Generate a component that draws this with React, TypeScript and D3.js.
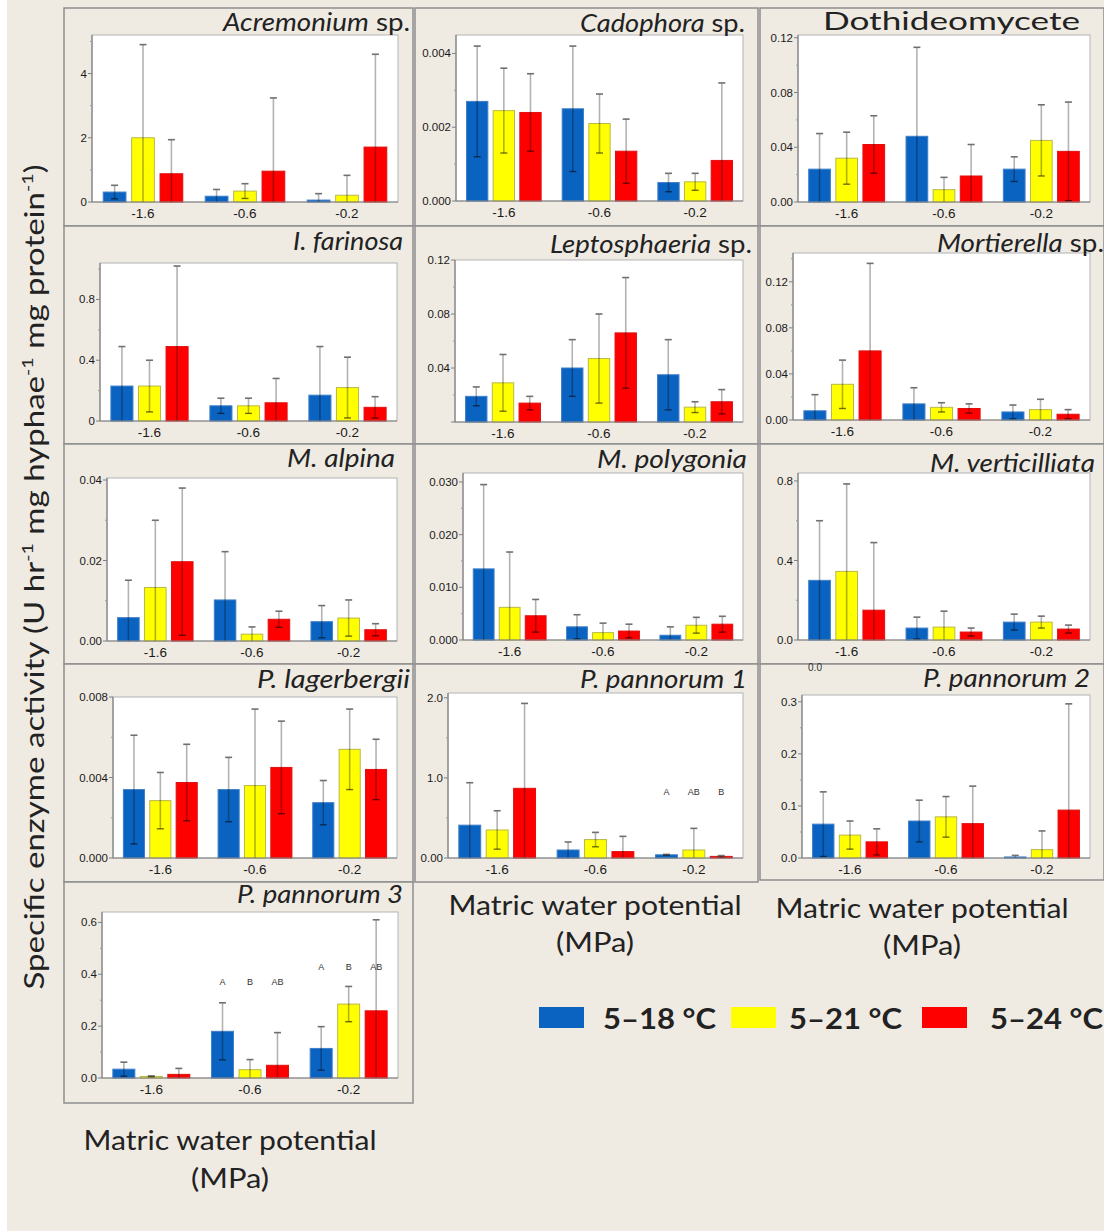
import React from "react";
import * as d3 from "d3";

// ---------- data ----------
const potentials = ["-1.6", "-0.6", "-0.2"];
const treatments = ["5–18 °C", "5–21 °C", "5–24 °C"];
const treatmentColors = ["#0b63c1", "#ffff00", "#ff0000"];
const treatmentStrokes = ["#3f7fc8", "#b8b84a", "#e01010"];

// mean[potential][treatment], sd[potential][treatment]
const acremoniumMean = [[0.31, 2.0, 0.88], [0.18, 0.34, 0.96], [0.06, 0.21, 1.71]];
const acremoniumSD = [[0.21, 2.9, 1.06], [0.21, 0.23, 2.28], [0.2, 0.62, 2.89]];
const acremoniumTicks = [0, 2, 4];
const acremoniumTickLabels = ["0", "2", "4"];

const cadophoraMean = [[0.0027, 0.00245, 0.0024], [0.0025, 0.0021, 0.00135], [0.0005, 0.00052, 0.0011]];
const cadophoraSD = [[0.0015, 0.00115, 0.00105], [0.0017, 0.0008, 0.00087], [0.00025, 0.00023, 0.0021]];
const cadophoraTicks = [0, 0.002, 0.004];
const cadophoraTickLabels = ["0.000", "0.002", "0.004"];

const dothideoMean = [[0.024, 0.032, 0.042], [0.048, 0.009, 0.019], [0.024, 0.045, 0.037]];
const dothideoSD = [[0.026, 0.019, 0.021], [0.065, 0.009, 0.023], [0.009, 0.026, 0.036]];
const dothideoTicks = [0, 0.04, 0.08, 0.12];
const dothideoTickLabels = ["0.00", "0.04", "0.08", "0.12"];

const farinosaMean = [[0.23, 0.23, 0.49], [0.1, 0.1, 0.12], [0.17, 0.22, 0.09]];
const farinosaSD = [[0.26, 0.17, 0.53], [0.05, 0.05, 0.16], [0.32, 0.2, 0.07]];
const farinosaTicks = [0, 0.4, 0.8];
const farinosaTickLabels = ["0", "0.4", "0.8"];

const leptoMean = [[0.019, 0.029, 0.014], [0.04, 0.047, 0.066], [0.035, 0.011, 0.015]];
const leptoSD = [[0.007, 0.021, 0.005], [0.021, 0.033, 0.041], [0.026, 0.004, 0.009]];
const leptoTicks = [0.04, 0.08, 0.12];
const leptoTickLabels = ["0.04", "0.08", "0.12"];

const mortierellaMean = [[0.008, 0.031, 0.06], [0.014, 0.011, 0.01], [0.007, 0.009, 0.005]];
const mortierellaSD = [[0.014, 0.021, 0.076], [0.014, 0.004, 0.004], [0.006, 0.009, 0.004]];
const mortierellaTicks = [0, 0.04, 0.08, 0.12];
const mortierellaTickLabels = ["0.00", "0.04", "0.08", "0.12"];

const alpinaMean = [[0.0058, 0.0133, 0.0197], [0.0102, 0.0017, 0.0054], [0.0048, 0.0057, 0.0028]];
const alpinaSD = [[0.0093, 0.0167, 0.0183], [0.012, 0.0018, 0.002], [0.004, 0.0045, 0.0015]];
const alpinaTicks = [0, 0.02, 0.04];
const alpinaTickLabels = ["0.00", "0.02", "0.04"];

const polygoniaMean = [[0.0135, 0.0062, 0.0046], [0.0025, 0.0014, 0.0017], [0.0009, 0.0028, 0.003]];
const polygoniaSD = [[0.016, 0.0105, 0.0031], [0.0023, 0.0018, 0.0013], [0.0016, 0.0015, 0.0015]];
const polygoniaTicks = [0, 0.01, 0.02, 0.03];
const polygoniaTickLabels = ["0.000", "0.010", "0.020", "0.030"];

const verticilliataMean = [[0.3, 0.345, 0.15], [0.06, 0.065, 0.04], [0.09, 0.09, 0.055]];
const verticilliataSD = [[0.3, 0.44, 0.34], [0.055, 0.08, 0.02], [0.04, 0.03, 0.02]];
const verticilliataTicks = [0, 0.4, 0.8];
const verticilliataTickLabels = ["0.0", "0.4", "0.8"];

const lagerbergiiMean = [[0.0034, 0.00285, 0.00375], [0.0034, 0.0036, 0.0045], [0.00275, 0.0054, 0.0044]];
const lagerbergiiSD = [[0.0027, 0.0014, 0.0019], [0.0016, 0.0038, 0.0023], [0.0011, 0.002, 0.0015]];
const lagerbergiiTicks = [0, 0.004, 0.008];
const lagerbergiiTickLabels = ["0.000", "0.004", "0.008"];

const pannorum1Mean = [[0.41, 0.35, 0.87], [0.1, 0.23, 0.08], [0.04, 0.1, 0.02]];
const pannorum1SD = [[0.53, 0.24, 1.06], [0.1, 0.09, 0.19], [0.005, 0.27, 0.01]];
const pannorum1Ticks = [0, 1, 2];
const pannorum1TickLabels = ["0.00", "1.0", "2.0"];
const pannorum1Letters = [{ potential: "-0.2", level: 0.82, labels: ["A", "AB", "B"] }];

const pannorum2Mean = [[0.065, 0.044, 0.031], [0.071, 0.079, 0.066], [0.002, 0.016, 0.092]];
const pannorum2SD = [[0.062, 0.027, 0.025], [0.04, 0.039, 0.072], [0.003, 0.036, 0.204]];
const pannorum2Ticks = [0, 0.1, 0.2, 0.3];
const pannorum2TickLabels = ["0.0", "0.1", "0.2", "0.3"];

const pannorum3Mean = [[0.034, 0.006, 0.014], [0.18, 0.032, 0.049], [0.114, 0.285, 0.259]];
const pannorum3SD = [[0.027, 0.002, 0.023], [0.11, 0.039, 0.126], [0.084, 0.068, 0.351]];
const pannorum3Ticks = [0, 0.2, 0.4, 0.6];
const pannorum3TickLabels = ["0.0", "0.2", "0.4", "0.6"];
const pannorum3Letters = [
  { potential: "-0.6", level: 0.37, labels: ["A", "B", "AB"] },
  { potential: "-0.2", level: 0.427, labels: ["A", "B", "AB"] },
];

// ---------- layout ----------
type Seg = [string, boolean];
type PanelSpec = {
  title: Seg[];
  tx: number; tw: number; ty: number;
  box: [number, number, number, number];
  plot: [number, number, number, number];
  yMax: number;
  step: number;
  mean: number[][];
  sd: number[][];
  ticks: number[];
  tickLabels: string[];
  letters?: { potential: string; level: number; labels: string[] }[];
};

const panels: PanelSpec[] = [
  { title: [["Acremonium", true], [" sp.", false]], tx: 223, tw: 187, ty: 31, box: [64, 8, 413, 226], plot: [92, 35, 398, 202], yMax: 5.2, step: 2, mean: acremoniumMean, sd: acremoniumSD, ticks: acremoniumTicks, tickLabels: acremoniumTickLabels },
  { title: [["Cadophora", true], [" sp.", false]], tx: 580, tw: 165, ty: 32, box: [415, 8, 758, 226], plot: [456, 35, 743, 201], yMax: 0.0045, step: 0.002, mean: cadophoraMean, sd: cadophoraSD, ticks: cadophoraTicks, tickLabels: cadophoraTickLabels },
  { title: [["Dothideomycete", false]], tx: 823, tw: 257, ty: 30, box: [760, 8, 1104, 226], plot: [798, 35, 1090, 202], yMax: 0.122, step: 0.04, mean: dothideoMean, sd: dothideoSD, ticks: dothideoTicks, tickLabels: dothideoTickLabels },
  { title: [["I. farinosa", true]], tx: 293, tw: 110, ty: 250, box: [64, 226, 413, 444], plot: [100, 263, 397, 421], yMax: 1.04, step: 0.4, mean: farinosaMean, sd: farinosaSD, ticks: farinosaTicks, tickLabels: farinosaTickLabels },
  { title: [["Leptosphaeria", true], [" sp.", false]], tx: 550, tw: 202, ty: 253, box: [415, 226, 758, 444], plot: [455, 260, 743, 422], yMax: 0.12, step: 0.04, mean: leptoMean, sd: leptoSD, ticks: leptoTicks, tickLabels: leptoTickLabels },
  { title: [["Mortierella", true], [" sp.", false]], tx: 937, tw: 167, ty: 252, box: [760, 226, 1104, 444], plot: [793, 253, 1090, 420], yMax: 0.145, step: 0.04, mean: mortierellaMean, sd: mortierellaSD, ticks: mortierellaTicks, tickLabels: mortierellaTickLabels },
  { title: [["M. alpina", true]], tx: 287, tw: 108, ty: 467, box: [64, 444, 413, 664], plot: [107, 478, 397, 641], yMax: 0.0405, step: 0.02, mean: alpinaMean, sd: alpinaSD, ticks: alpinaTicks, tickLabels: alpinaTickLabels },
  { title: [["M. polygonia", true]], tx: 597, tw: 150, ty: 468, box: [415, 444, 758, 664], plot: [463, 473, 743, 640], yMax: 0.0317, step: 0.01, mean: polygoniaMean, sd: polygoniaSD, ticks: polygoniaTicks, tickLabels: polygoniaTickLabels },
  { title: [["M. verticilliata", true]], tx: 930, tw: 165, ty: 472, box: [760, 444, 1104, 664], plot: [798, 473, 1090, 640], yMax: 0.84, step: 0.4, mean: verticilliataMean, sd: verticilliataSD, ticks: verticilliataTicks, tickLabels: verticilliataTickLabels },
  { title: [["P. lagerbergii", true]], tx: 257, tw: 153, ty: 688, box: [64, 664, 413, 882], plot: [113, 697, 397, 858], yMax: 0.008, step: 0.004, mean: lagerbergiiMean, sd: lagerbergiiSD, ticks: lagerbergiiTicks, tickLabels: lagerbergiiTickLabels },
  { title: [["P. pannorum 1", true]], tx: 580, tw: 167, ty: 688, box: [415, 664, 758, 882], plot: [448, 693, 743, 858], yMax: 2.06, step: 1, mean: pannorum1Mean, sd: pannorum1SD, ticks: pannorum1Ticks, tickLabels: pannorum1TickLabels, letters: pannorum1Letters },
  { title: [["P. pannorum 2", true]], tx: 923, tw: 167, ty: 687, box: [760, 664, 1104, 880], plot: [802, 695, 1090, 858], yMax: 0.313, step: 0.1, mean: pannorum2Mean, sd: pannorum2SD, ticks: pannorum2Ticks, tickLabels: pannorum2TickLabels },
  { title: [["P. pannorum 3", true]], tx: 237, tw: 166, ty: 903, box: [64, 882, 413, 1103], plot: [102, 912, 398, 1078], yMax: 0.64, step: 0.2, mean: pannorum3Mean, sd: pannorum3SD, ticks: pannorum3Ticks, tickLabels: pannorum3TickLabels, letters: pannorum3Letters },
];

const SANS = "Lato, 'Open Sans', sans-serif";
const TICKF = "'Liberation Sans', Arial, sans-serif";

function Panel({ p }: { p: PanelSpec }) {
  const [l, t, r, b] = p.plot;
  const x0 = d3.scaleBand<string>().domain(potentials).range([l, r]).paddingInner(0.22).paddingOuter(0.11);
  const x1 = d3.scaleBand<string>().domain(treatments).range([0, x0.bandwidth()]).paddingInner(0.2);
  const y = d3.scaleLinear().domain([0, p.yMax]).range([b, t]);
  const majors = d3.range(0, p.yMax + 1e-12, p.step);
  const minors = d3.range(p.step / 2, p.yMax + 1e-12, p.step);
  const [bx0, by0, bx1, by1] = p.box;
  return (
    <g>
      <rect x={bx0} y={by0} width={bx1 - bx0} height={by1 - by0} fill="#efebe2" stroke="#8e8e8e" strokeWidth={1.5} />
      <rect x={l} y={t} width={r - l} height={b - t} fill="#ffffff" stroke="#b4b4b4" strokeWidth={1} />
      {potentials.map((pot, i) =>
        treatments.map((tr, j) => {
          const m = p.mean[i][j];
          const bx = (x0(pot) as number) + (x1(tr) as number);
          return (
            <rect key={pot + tr} x={bx} y={y(m)} width={x1.bandwidth()} height={y(0) - y(m)}
              fill={treatmentColors[j]} stroke={treatmentStrokes[j]} strokeWidth={1} />
          );
        })
      )}
      {potentials.map((pot, i) =>
        treatments.map((tr, j) => {
          const m = p.mean[i][j];
          const s = p.sd[i][j];
          const cx = (x0(pot) as number) + (x1(tr) as number) + x1.bandwidth() / 2;
          const hi = y(Math.min(p.yMax, m + s));
          const loV = Math.max(0, m - s);
          const lo = y(loV);
          return (
            <g key={"e" + pot + tr}>
              <line x1={cx} x2={cx} y1={lo} y2={hi} stroke="rgba(0,0,0,0.3)" strokeWidth={1.6} />
              <line x1={cx - 3.5} x2={cx + 3.5} y1={hi} y2={hi} stroke="#707070" strokeWidth={1.6} />
              {loV > 0 && <line x1={cx - 3.5} x2={cx + 3.5} y1={lo} y2={lo} stroke="rgba(0,0,0,0.55)" strokeWidth={1.4} />}
            </g>
          );
        })
      )}
      <line x1={l} x2={l} y1={t} y2={b} stroke="#808080" strokeWidth={1.2} />
      <line x1={l} x2={r} y1={b} y2={b} stroke="#808080" strokeWidth={1.2} />
      {majors.map((v, k) => (
        <line key={"M" + k} x1={l - 4} x2={l} y1={y(v)} y2={y(v)} stroke="#808080" strokeWidth={1} />
      ))}
      {minors.map((v, k) => (
        <line key={"m" + k} x1={l - 2} x2={l} y1={y(v)} y2={y(v)} stroke="#9a9a9a" strokeWidth={1} />
      ))}
      {p.ticks.map((v, k) => (
        <text key={"t" + k} x={l - 5} y={y(v)} dy="0.35em" textAnchor="end" fontFamily={TICKF} fontSize={11.5} fill="#1a1a1a">
          {p.tickLabels[k]}
        </text>
      ))}
      {potentials.map((pot) => (
        <text key={"x" + pot} x={(x0(pot) as number) + x0.bandwidth() / 2} y={b + 16} textAnchor="middle" fontFamily={TICKF} fontSize={13.5} fill="#1a1a1a">
          {pot}
        </text>
      ))}
      {(p.letters || []).map((g) =>
        g.labels.map((lab, j) => (
          <text key={"L" + g.potential + j} x={(x0(g.potential) as number) + (x1(treatments[j]) as number) + x1.bandwidth() / 2}
            y={y(g.level)} dy="0.35em" textAnchor="middle" fontFamily={TICKF} fontSize={9} fill="#333">
            {lab}
          </text>
        ))
      )}
      <text x={p.tx} y={p.ty} fontFamily={SANS} fontSize={25} fill="#222" textLength={p.tw} lengthAdjust="spacingAndGlyphs">
        {p.title.map(([s, it], k) => (
          <tspan key={k} fontStyle={it ? "italic" : "normal"}>{s}</tspan>
        ))}
      </text>
    </g>
  );
}

export default function App() {
  return (
    <svg width={1104} height={1231} style={{ position: "absolute", left: 0, top: 0, display: "block" }}>
      <rect x={0} y={0} width={1104} height={1231} fill="#ffffff" />
      <rect x={7} y={0} width={1097} height={1231} fill="#efebe2" />
      {panels.map((p, i) => (
        <Panel key={i} p={p} />
      ))}
      <text x={815} y={671} fontFamily={TICKF} fontSize={10} fill="#333" textAnchor="middle">0.0</text>
      <g transform="translate(44,577) rotate(-90)">
        <text textAnchor="middle" fontFamily={SANS} fontSize={27} fill="#222" textLength={825} lengthAdjust="spacingAndGlyphs">
          <tspan>Specific enzyme activity (U hr</tspan>
          <tspan fontSize={16} dy={-11}>-1</tspan>
          <tspan dy={11}> mg hyphae</tspan>
          <tspan fontSize={16} dy={-11}>-1</tspan>
          <tspan dy={11}> mg protein</tspan>
          <tspan fontSize={16} dy={-11}>-1</tspan>
          <tspan dy={11}>)</tspan>
        </text>
      </g>
      {[
        { cx: 230, y1: 1150, y2: 1188 },
        { cx: 595, y1: 915, y2: 952 },
        { cx: 922, y1: 918, y2: 955 },
      ].map((a, i) => (
        <g key={"ax" + i}>
          <text x={a.cx} y={a.y1} textAnchor="middle" fontFamily={SANS} fontSize={26} fill="#222" textLength={293} lengthAdjust="spacingAndGlyphs">
            Matric water potential
          </text>
          <text x={a.cx} y={a.y2} textAnchor="middle" fontFamily={SANS} fontSize={26} fill="#222" textLength={78} lengthAdjust="spacingAndGlyphs">
            (MPa)
          </text>
        </g>
      ))}
      {treatments.map((tr, j) => {
        const rx = [539, 731, 922][j];
        const tx = [603, 789, 990][j];
        return (
          <g key={"lg" + j}>
            <rect x={rx} y={1007} width={45} height={21} fill={treatmentColors[j]} />
            <text x={tx} y={1029} fontFamily={SANS} fontWeight="bold" fontSize={29} fill="#222" textLength={113} lengthAdjust="spacingAndGlyphs">
              {tr}
            </text>
          </g>
        );
      })}
    </svg>
  );
}
